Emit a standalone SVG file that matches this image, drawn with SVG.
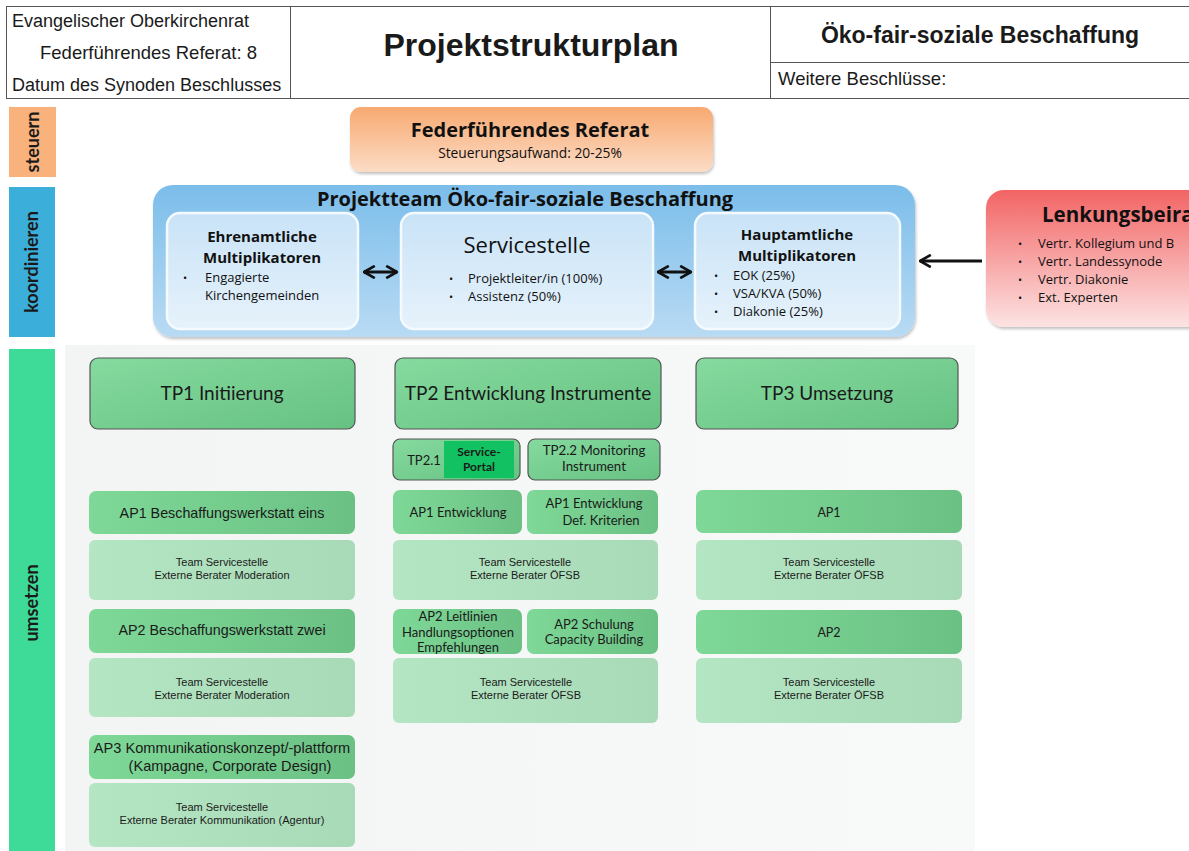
<svg xmlns="http://www.w3.org/2000/svg" width="1189" height="851" viewBox="0 0 1189 851">
<defs>
<linearGradient id="gOr" x1="0" y1="0" x2="0" y2="1"><stop offset="0" stop-color="#F7A970"/><stop offset="1" stop-color="#FCDCC6"/></linearGradient>
<linearGradient id="gBlue" x1="0" y1="0" x2="0" y2="1"><stop offset="0" stop-color="#7BBDEA"/><stop offset="1" stop-color="#B9DBF4"/></linearGradient>
<linearGradient id="gBlueIn" x1="0" y1="0" x2="0" y2="1"><stop offset="0" stop-color="#C9E3F7"/><stop offset="1" stop-color="#E6F2FB"/></linearGradient>
<linearGradient id="gRed" x1="0" y1="0" x2="0" y2="1"><stop offset="0" stop-color="#F26464"/><stop offset="1" stop-color="#FDE3E3"/></linearGradient>
<linearGradient id="gTP" x1="0" y1="0" x2="1" y2="1"><stop offset="0" stop-color="#86DA9F"/><stop offset="1" stop-color="#66C282"/></linearGradient>
<linearGradient id="gAP" x1="0" y1="0" x2="1" y2="0"><stop offset="0" stop-color="#7ED897"/><stop offset="1" stop-color="#6BC184"/></linearGradient>
<linearGradient id="gTeam" x1="0" y1="0" x2="1" y2="0"><stop offset="0" stop-color="#B5E6C3"/><stop offset="1" stop-color="#A9DAB7"/></linearGradient>
<linearGradient id="gPanel" x1="0" y1="0" x2="1" y2="0"><stop offset="0" stop-color="#F3F4F4"/><stop offset="1" stop-color="#F8F9F9"/></linearGradient>
<filter id="sh" x="-5%" y="-5%" width="110%" height="120%"><feDropShadow dx="1" dy="2" stdDeviation="1.5" flood-color="#000" flood-opacity="0.25"/></filter>
<marker id="ah" viewBox="0 0 10 10" refX="9" refY="5" markerWidth="4.5" markerHeight="4.5" orient="auto-start-reverse"><path d="M1,0.5 L9,5 L1,9.5" fill="none" stroke="#111" stroke-width="2"/></marker>
</defs>
<style>
.hdr{font-family:"Liberation Sans",Arial,sans-serif;fill:#1a1a1a}
.c{font-family:Lato,"Open Sans",sans-serif;fill:#1a1a1a}
.t{font-family:"Open Sans","DejaVu Sans",sans-serif;fill:#111}
.a{font-family:"Liberation Sans",Arial,sans-serif;fill:#1a1a1a}
.line{stroke:#555;stroke-width:1;fill:none}
.tp{fill:url(#gTP);stroke:#555;stroke-width:1.2}
.ap{fill:url(#gAP)}
.team{fill:url(#gTeam)}
.conn{stroke:#111;stroke-width:3;fill:none}
.lane{font-size:18px;font-weight:bold}
.bul{font-size:13px}
.dot{font-size:11px}
.mh{font-size:15px;font-weight:bold}
.tm{font-size:11px}
</style>
<rect width="1189" height="851" fill="#fff"/>
<g id="header">
<rect x="6.5" y="6.5" width="1190" height="92" class="line"/>
<line x1="290.5" y1="6" x2="290.5" y2="99" class="line"/>
<line x1="770.5" y1="6" x2="770.5" y2="99" class="line"/>
<line x1="770" y1="62.5" x2="1189" y2="62.5" class="line"/>
<text x="12" y="27" class="hdr" font-size="18">Evangelischer Oberkirchenrat</text>
<text x="40" y="59" class="hdr" font-size="18.5">Federführendes Referat: 8</text>
<text x="12" y="91" class="hdr" font-size="18">Datum des Synoden Beschlusses</text>
<text x="531" y="56" class="hdr" font-size="32" font-weight="bold" text-anchor="middle">Projektstrukturplan</text>
<text x="980" y="43" class="hdr" font-size="23" font-weight="bold" text-anchor="middle">Öko-fair-soziale Beschaffung</text>
<text x="778" y="85" class="hdr" font-size="18.5">Weitere Beschlüsse:</text>
</g>
<g id="lanes">
<rect x="9" y="107" width="47" height="70" fill="#F9B27C"/>
<text transform="translate(39 142) rotate(-90)" class="c lane" text-anchor="middle">steuern</text>
<rect x="9" y="187" width="46" height="150" fill="#3BAFDA"/>
<text transform="translate(38 262) rotate(-90)" class="c lane" text-anchor="middle">koordinieren</text>
<rect x="9" y="349" width="46" height="502" fill="#3EDA98"/>
<text transform="translate(38 603) rotate(-90)" class="c lane" text-anchor="middle">umsetzen</text>
<rect x="65" y="345" width="910" height="506" fill="url(#gPanel)"/>
</g>
<g id="referat">
<rect x="350" y="107" width="363" height="65" rx="11" fill="url(#gOr)" filter="url(#sh)"/>
<text x="530" y="137" class="t" font-size="20" font-weight="bold" text-anchor="middle">Federführendes Referat</text>
<text x="530" y="158" class="t" font-size="13.8" text-anchor="middle">Steuerungsaufwand: 20-25%</text>
</g>
<g id="projektteam">
<rect x="153" y="185" width="762" height="152" rx="20" fill="url(#gBlue)" filter="url(#sh)"/>
<text x="525" y="206" class="t" font-size="20" font-weight="bold" text-anchor="middle">Projektteam Öko-fair-soziale Beschaffung</text>
</g>
<g id="ehrenamtliche">
<rect x="167" y="213" width="191" height="116" rx="13" fill="url(#gBlueIn)" stroke="#F4FAFE" stroke-width="2.5"/>
<text x="262" y="242" class="t mh" text-anchor="middle">Ehrenamtliche</text>
<text x="262" y="262.5" class="t mh" text-anchor="middle">Multiplikatoren</text>
<text x="183" y="282" class="t dot">•</text>
<text x="205" y="282" class="t bul">Engagierte</text>
<text x="205" y="300" class="t bul">Kirchengemeinden</text>
</g>
<g id="servicestelle">
<rect x="401" y="213" width="252" height="116" rx="13" fill="url(#gBlueIn)" stroke="#F4FAFE" stroke-width="2.5"/>
<text x="527" y="253" class="t" font-size="22" text-anchor="middle">Servicestelle</text>
<text x="449" y="283" class="t dot">•</text>
<text x="468" y="283" class="t bul">Projektleiter/in (100%)</text>
<text x="449" y="301" class="t dot">•</text>
<text x="468" y="301" class="t bul">Assistenz (50%)</text>
</g>
<g id="hauptamtliche">
<rect x="695" y="213" width="205" height="116" rx="13" fill="url(#gBlueIn)" stroke="#F4FAFE" stroke-width="2.5"/>
<text x="797" y="240" class="t mh" text-anchor="middle">Hauptamtliche</text>
<text x="797" y="260.5" class="t mh" text-anchor="middle">Multiplikatoren</text>
<text x="714" y="279.5" class="t dot">•</text>
<text x="733" y="279.5" class="t bul">EOK (25%)</text>
<text x="714" y="297.5" class="t dot">•</text>
<text x="733" y="297.5" class="t bul">VSA/KVA (50%)</text>
<text x="714" y="315.5" class="t dot">•</text>
<text x="733" y="315.5" class="t bul">Diakonie (25%)</text>
</g>
<g id="lenkungsbeirat">
<rect x="986" y="190" width="230" height="137" rx="18" fill="url(#gRed)" filter="url(#sh)"/>
<text x="1042" y="222" class="t" font-size="20.5" font-weight="bold">Lenkungsbeirat</text>
<text x="1018" y="248" class="t dot">•</text>
<text x="1038" y="248" class="t bul">Vertr. Kollegium und B</text>
<text x="1018" y="266" class="t dot">•</text>
<text x="1038" y="266" class="t bul">Vertr. Landessynode</text>
<text x="1018" y="284" class="t dot">•</text>
<text x="1038" y="284" class="t bul">Vertr. Diakonie</text>
<text x="1018" y="302" class="t dot">•</text>
<text x="1038" y="302" class="t bul">Ext. Experten</text>
</g>
<g id="connectors">
<line x1="364" y1="272" x2="397" y2="272" class="conn" marker-start="url(#ah)" marker-end="url(#ah)"/>
<line x1="658" y1="272" x2="691" y2="272" class="conn" marker-start="url(#ah)" marker-end="url(#ah)"/>
<line x1="982" y1="261" x2="920" y2="261" class="conn" marker-end="url(#ah)"/>
</g>
<g id="tp1">
<rect x="90" y="358" width="265" height="71" rx="8" class="tp"/>
<text x="222" y="400" class="c" font-size="19" text-anchor="middle">TP1 Initiierung</text>
</g>
<g id="tp2">
<rect x="395" y="358" width="266" height="71" rx="8" class="tp"/>
<text x="528" y="400" class="c" font-size="19" text-anchor="middle">TP2 Entwicklung Instrumente</text>
</g>
<g id="tp3">
<rect x="696" y="358" width="262" height="71" rx="8" class="tp"/>
<text x="827" y="400" class="c" font-size="19" text-anchor="middle">TP3 Umsetzung</text>
</g>
<g id="tp21">
<rect x="393" y="439" width="127" height="41" rx="7" class="tp"/>
<rect x="444" y="441" width="70" height="37" fill="#12C262"/>
<text x="424" y="465" class="c" font-size="13" text-anchor="middle">TP2.1</text>
<text x="479" y="456" class="c" font-size="12" font-weight="bold" text-anchor="middle">Service-</text>
<text x="479" y="471" class="c" font-size="12" font-weight="bold" text-anchor="middle">Portal</text>
</g>
<g id="tp22">
<rect x="528" y="439" width="132" height="41" rx="7" class="tp"/>
<text x="594" y="455" class="c" font-size="13.3" text-anchor="middle">TP2.2 Monitoring</text>
<text x="594" y="471" class="c" font-size="13.3" text-anchor="middle">Instrument</text>
</g>
<g id="tp1-ap1">
<rect x="89" y="491" width="266" height="43" rx="7" class="ap"/>
<text x="222" y="518" class="a" font-size="14.3" text-anchor="middle">AP1 Beschaffungswerkstatt eins</text>
</g>
<g id="tp1-team1">
<rect x="89" y="540" width="266" height="60" rx="6" class="team"/>
<text x="222" y="566" class="a tm" text-anchor="middle">Team Servicestelle</text>
<text x="222" y="579" class="a tm" text-anchor="middle">Externe Berater Moderation</text>
</g>
<g id="tp1-ap2">
<rect x="89" y="609" width="266" height="44" rx="7" class="ap"/>
<text x="222" y="635" class="a" font-size="14.3" text-anchor="middle">AP2 Beschaffungswerkstatt zwei</text>
</g>
<g id="tp1-team2">
<rect x="89" y="658" width="266" height="59" rx="6" class="team"/>
<text x="222" y="686" class="a tm" text-anchor="middle">Team Servicestelle</text>
<text x="222" y="699" class="a tm" text-anchor="middle">Externe Berater Moderation</text>
</g>
<g id="tp1-ap3">
<rect x="89" y="735" width="266" height="44" rx="7" class="ap"/>
<text x="222" y="753" class="a" font-size="14.6" text-anchor="middle">AP3 Kommunikationskonzept/-plattform</text>
<text x="230" y="771" class="a" font-size="14.6" text-anchor="middle">(Kampagne, Corporate Design)</text>
</g>
<g id="tp1-team3">
<rect x="89" y="783" width="266" height="64" rx="6" class="team"/>
<text x="222" y="811" class="a tm" text-anchor="middle">Team Servicestelle</text>
<text x="222" y="824" class="a tm" text-anchor="middle">Externe Berater Kommunikation (Agentur)</text>
</g>
<g id="tp2-ap1a">
<rect x="393" y="490" width="129" height="44" rx="7" class="ap"/>
<text x="458" y="517" class="c" font-size="13" text-anchor="middle">AP1 Entwicklung</text>
</g>
<g id="tp2-ap1b">
<rect x="527" y="490" width="131" height="44" rx="7" class="ap"/>
<text x="594" y="508" class="c" font-size="13" text-anchor="middle">AP1 Entwicklung</text>
<text x="601" y="525" class="c" font-size="13" text-anchor="middle">Def. Kriterien</text>
</g>
<g id="tp2-team1">
<rect x="393" y="540" width="265" height="60" rx="6" class="team"/>
<text x="525" y="566" class="a tm" text-anchor="middle">Team Servicestelle</text>
<text x="525" y="579" class="a tm" text-anchor="middle">Externe Berater ÖFSB</text>
</g>
<g id="tp2-ap2a">
<rect x="393" y="609" width="129" height="45" rx="7" class="ap"/>
<text x="458" y="621" class="c" font-size="13" text-anchor="middle">AP2 Leitlinien</text>
<text x="458" y="637" class="c" font-size="13" text-anchor="middle">Handlungsoptionen</text>
<text x="458" y="652" class="c" font-size="13" text-anchor="middle">Empfehlungen</text>
</g>
<g id="tp2-ap2b">
<rect x="527" y="609" width="131" height="45" rx="7" class="ap"/>
<text x="594" y="629" class="c" font-size="13" text-anchor="middle">AP2 Schulung</text>
<text x="594" y="644" class="c" font-size="13" text-anchor="middle">Capacity Building</text>
</g>
<g id="tp2-team2">
<rect x="393" y="658" width="265" height="65" rx="6" class="team"/>
<text x="526" y="686" class="a tm" text-anchor="middle">Team Servicestelle</text>
<text x="526" y="699" class="a tm" text-anchor="middle">Externe Berater ÖFSB</text>
</g>
<g id="tp3-ap1">
<rect x="696" y="490" width="266" height="43" rx="7" class="ap"/>
<text x="829" y="517" class="c" font-size="12.5" text-anchor="middle">AP1</text>
</g>
<g id="tp3-team1">
<rect x="696" y="540" width="266" height="60" rx="6" class="team"/>
<text x="829" y="566" class="a tm" text-anchor="middle">Team Servicestelle</text>
<text x="829" y="579" class="a tm" text-anchor="middle">Externe Berater ÖFSB</text>
</g>
<g id="tp3-ap2">
<rect x="696" y="610" width="266" height="44" rx="7" class="ap"/>
<text x="829" y="637" class="c" font-size="12.5" text-anchor="middle">AP2</text>
</g>
<g id="tp3-team2">
<rect x="696" y="658" width="266" height="65" rx="6" class="team"/>
<text x="829" y="686" class="a tm" text-anchor="middle">Team Servicestelle</text>
<text x="829" y="699" class="a tm" text-anchor="middle">Externe Berater ÖFSB</text>
</g>
</svg>
